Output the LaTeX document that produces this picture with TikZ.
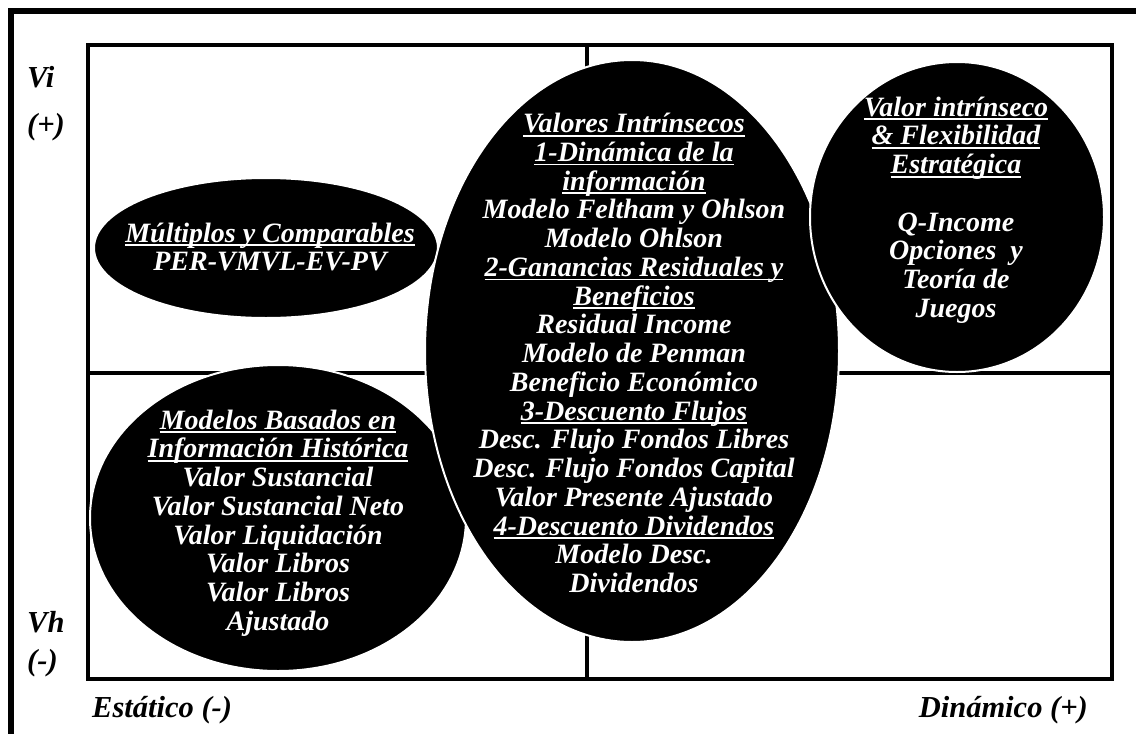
\documentclass[tikz,border=0pt]{standalone}
\usepackage{fontspec}
\setmainfont{Liberation Serif}
\usetikzlibrary{shapes.geometric}
\newcommand\myul[1]{\setbox0\hbox{#1}\rlap{\rule[-4pt]{\wd0}{1.8pt}}\box0}
\begin{document}
\begin{tikzpicture}[x=1pt,y=-1pt,
  blob/.style={ellipse, fill=black, draw=white, line width=2pt, inner sep=0pt},
  wtext/.style={text=white, font=\fontsize{28}{28.75}\selectfont\bfseries\itshape, align=center, inner sep=0pt},
  btext/.style={text=black, font=\fontsize{30.5}{30}\selectfont\bfseries\itshape, inner sep=0pt},
  frameline/.style={line width=6pt},
  gridline/.style={line width=3.5pt}]
\useasboundingbox (0,0) rectangle (1136,734);
% outer frame (cut by the page on the right and bottom)
\coordinate (fbl) at (11,734);
\coordinate (ftl) at (11,11);
\coordinate (ftr) at (1136,11);
\draw[frameline] (fbl) -- (ftl) -- (ftr);
% quadrant grid
\coordinate (tl) at (88,45);
\coordinate (br) at (1112,679);
\coordinate (vt) at (587,45);
\coordinate (vb) at (587,679);
\coordinate (hl) at (88,373);
\coordinate (hr) at (1112,373);
\draw[gridline] (tl) rectangle (br);
\draw[gridline] (vt) -- (vb);
\draw[gridline] (hl) -- (hr);
% ellipses
\node[blob, minimum width=376pt, minimum height=306pt] (hist) at (278,518) {};
\node[blob, minimum width=344pt, minimum height=140pt] (mult) at (266,248) {};
\node[blob, minimum width=414pt, minimum height=582pt] (intr) at (632,351) {};
\node[blob, minimum width=294pt, minimum height=310pt] (flex) at (957,217) {};
% texts
\node[wtext] (multt) at (270,247) {\myul{Múltiplos y Comparables}\\PER-VMVL-EV-PV};
\node[wtext] (histt) at (278,523) {\myul{Modelos Basados en}\\\myul{Información Histórica}\\Valor Sustancial\\Valor Sustancial Neto\\Valor Liquidación\\Valor Libros\\Valor Libros\\Ajustado};
\node[wtext] (intrt) at (634,353) {\myul{Valores Intrínsecos}\\\myul{1-Dinámica de la}\\\myul{información}\\Modelo Feltham y Ohlson\\Modelo Ohlson\\\myul{2-Ganancias Residuales y}\\\myul{Beneficios}\\Residual Income\\Modelo de Penman\\Beneficio Económico\\\myul{3-Descuento Flujos}\\Desc. Flujo Fondos Libres\\Desc. Flujo Fondos Capital\\Valor Presente Ajustado\\\myul{4-Descuento Dividendos}\\Modelo Desc.\\Dividendos};
\node[wtext] (flext) at (956,210) {\myul{Valor intrínseco}\\\myul{\& Flexibilidad}\\\myul{Estratégica}\\[28.75pt]Q-Income\\Opciones\ \ y\\Teoría de\\Juegos};
% axis labels
\node[btext, anchor=west] (vi) at (27,77) {Vi};
\node[btext, anchor=west] (vip) at (27,127) {(+)};
\node[btext, anchor=west] (vh) at (27,622) {Vh};
\node[btext, anchor=west] (vhm) at (27,663) {(-)};
\node[btext, anchor=west] (est) at (92,710) {Estático (-)};
\node[btext, anchor=east] (din) at (1088,710) {Dinámico (+)};
\end{tikzpicture}
\end{document}
